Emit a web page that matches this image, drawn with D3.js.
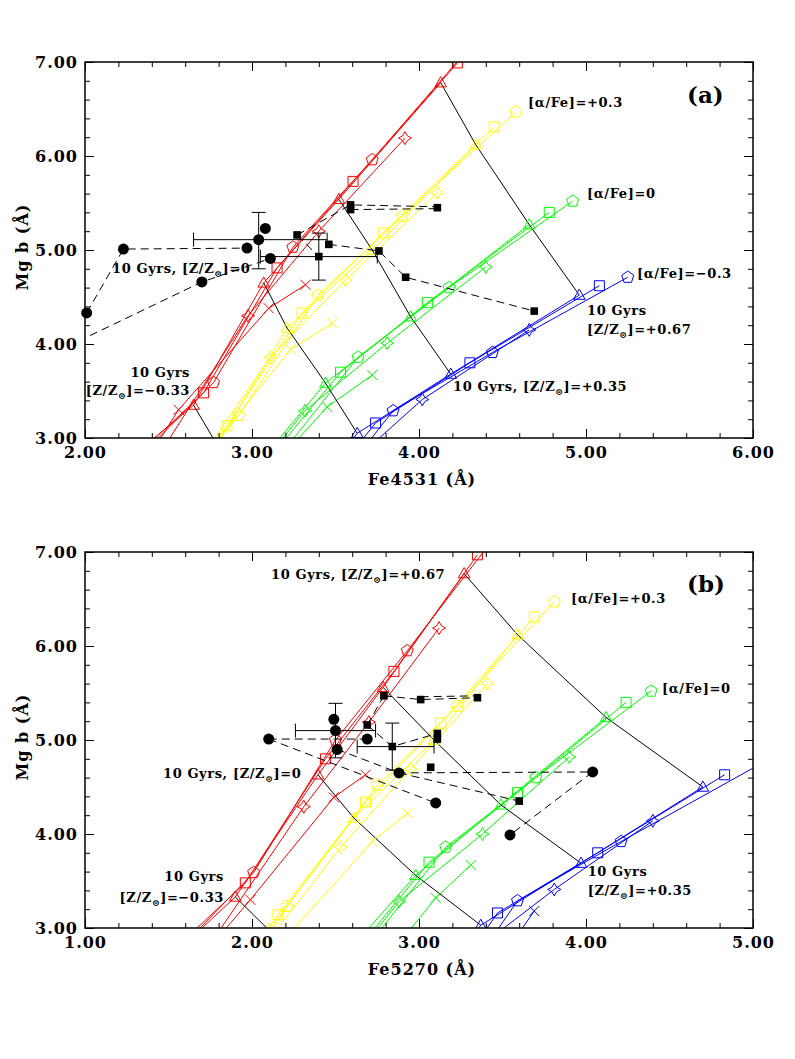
<!DOCTYPE html>
<html lang="en">
<head>
<meta charset="utf-8">
<title>Mg b vs Fe indices</title>
<script src="https://cdn.jsdelivr.net/npm/d3@7"></script>
<style>
  body { margin: 0; background: #fff; }
  text { font-family: "DejaVu Serif", serif; font-weight: bold; fill: #000; }
</style>
</head>
<body>
<script>
// Model grids. Each list runs over [Z/Zsun] = (below plot), -0.33, 0, +0.35, +0.67
// markers: triangle = 10 Gyr; the first entry only extends the track below the frame
var markerTypes = ["cross", "star", "square", "pentagon", "triangle"];

// ---- panel (a): Fe4531 ----
var redA = {
  triangle: [[2.28, 2.80], [2.65, 3.35], [3.07, 4.65], [3.52, 5.54], [4.13, 6.78]],
  square:   [[2.30, 2.80], [2.71, 3.48], [3.15, 4.81], [3.605, 5.73], [4.23, 6.99]],
  pentagon: [[2.30, 2.75], [2.77, 3.59], [3.245, 5.03], [3.72, 5.96], [4.30, 7.15]],
  star:     [[2.40, 2.70], null, [2.976, 4.30], [3.40, 5.20], [3.916, 6.19]],
  cross:    [[2.40, 2.85], [2.56, 3.30], [3.10, 4.38], [3.32, 4.63], null]
};
var yellowA = {
  triangle: [[2.60, 2.55], [2.79, 2.93], [3.21, 4.17], [3.72, 5.00], [4.34, 6.12]],
  square:   [[2.62, 2.60], [2.85, 3.13], [3.30, 4.33], [3.785, 5.18], [4.45, 6.31]],
  pentagon: [[2.60, 2.55], [2.92, 3.24], [3.395, 4.52], [3.90, 5.36], [4.58, 6.47]],
  star:     [[2.62, 2.60], null, [3.11, 3.86], [3.56, 4.68], [4.11, 5.61]],
  cross:    [[2.62, 2.60], null, [3.23, 3.94], [3.48, 4.22], null]
};
var greenA = {
  triangle: [[2.98, 2.60], null, [3.44, 3.585], [3.95, 4.29], [4.66, 5.27]],
  square:   [[3.02, 2.60], null, [3.53, 3.70], [4.05, 4.44], [4.78, 5.40]],
  pentagon: [[3.05, 2.55], null, [3.635, 3.86], [4.18, 4.60], [4.92, 5.52]],
  star:     [[2.98, 2.55], null, [3.317, 3.29], [3.81, 4.01], [4.40, 4.82]],
  cross:    [[3.05, 2.55], null, [3.45, 3.33], [3.72, 3.67], null]
};
var blueA = {
  triangle: [[3.52, 2.80], null, [3.63, 3.05], [4.19, 3.68], [4.96, 4.52]],
  square:   [[3.60, 2.85], null, [3.74, 3.16], [4.305, 3.80], [5.08, 4.62]],
  pentagon: [[3.65, 2.85], null, [3.845, 3.29], [4.44, 3.91], [5.25, 4.71]],
  star:     [[3.55, 2.75], null, [3.70, 2.90], [4.02, 3.41], [4.66, 4.15]],
  cross:    []
};
var circlesA = [[2.01, 4.33], [2.23, 5.01], [2.70, 4.66], [2.97, 5.02], [3.04, 5.11], [3.08, 5.23], [3.11, 4.91]];
var squaresA = [[3.27, 5.16], [3.46, 5.06], [3.40, 4.93], [3.59, 5.48], [3.59, 5.43], [4.11, 5.45],
                [3.76, 4.99], [3.92, 4.71], [4.69, 4.35]];
var dashedA = [
  [[2.01, 4.33], [2.23, 5.01], [2.97, 5.02]],
  [[1.96, 4.03], [2.70, 4.66], [3.11, 4.91]],
  [[3.27, 5.16], [3.59, 5.48], [4.11, 5.46]],
  [[3.59, 5.43], [4.11, 5.44]],
  [[3.27, 5.16], [3.40, 4.93]],
  [[3.46, 5.06], [3.76, 4.99], [3.92, 4.71], [4.69, 4.35]]
];
// x, y, xlow, xhigh, ylow, yhigh
var errorBarsA = [[3.04, 5.11, 2.65, 3.45, 4.80, 5.40], [3.40, 4.93, 3.05, 3.75, 4.68, 5.18]];

// ---- panel (b): Fe5270 ----
var redB = {
  triangle: [[1.55, 2.75], [1.90, 3.33], [2.395, 4.63], [2.785, 5.56], [3.27, 6.77]],
  square:   [[1.55, 2.80], [1.96, 3.48], [2.44, 4.80], [2.85, 5.73], [3.35, 6.97]],
  pentagon: [[1.58, 2.80], [2.01, 3.59], [2.50, 5.00], [2.93, 5.95], [3.45, 7.15]],
  star:     [[1.70, 2.70], null, [2.31, 4.29], [2.70, 5.19], [3.12, 6.19]],
  cross:    [[1.75, 2.80], [1.99, 3.30], [2.49, 4.39], [2.68, 4.63], null]
};
var yellowB = {
  triangle: [[1.95, 2.65], [2.10, 2.98], [2.61, 4.17], [3.09, 5.00], [3.59, 6.12]],
  square:   [[1.98, 2.70], [2.155, 3.14], [2.68, 4.34], [3.13, 5.18], [3.69, 6.31]],
  pentagon: [[2.02, 2.70], [2.21, 3.23], [2.75, 4.52], [3.23, 5.36], [3.81, 6.47]],
  star:     [[1.98, 2.60], null, [2.53, 3.86], [2.95, 4.69], [3.41, 5.60]],
  cross:    [[2.05, 2.60], null, [2.72, 3.92], [2.93, 4.22], null]
};
var greenB = {
  triangle: [[2.50, 2.60], null, [2.98, 3.56], [3.49, 4.31], [4.12, 5.24]],
  square:   [[2.55, 2.60], null, [3.06, 3.70], [3.59, 4.44], [4.24, 5.40]],
  pentagon: [[2.60, 2.60], null, [3.16, 3.86], [3.70, 4.60], [4.39, 5.52]],
  star:     [[2.55, 2.55], null, [2.88, 3.28], [3.38, 4.00], [3.90, 4.82]],
  cross:    [[2.75, 2.55], null, [3.10, 3.32], [3.31, 3.67], null]
};
var blueB = {
  triangle: [[3.25, 2.75], null, [3.37, 3.03], [3.97, 3.69], [4.70, 4.50]],
  square:   [[3.33, 2.80], null, [3.47, 3.16], [4.07, 3.80], [4.83, 4.63]],
  pentagon: [[3.40, 2.80], null, [3.59, 3.29], [4.21, 3.92], [5.10, 4.80]],
  star:     [[3.35, 2.70], null, [3.45, 2.92], [3.81, 3.41], [4.40, 4.14]],
  cross:    [[3.58, 2.90], null, [3.69, 3.18], null, null]
};
var circlesB = [[2.10, 5.01], [2.49, 5.22], [2.50, 5.10], [2.51, 4.90], [2.69, 5.01], [2.88, 4.65],
                [3.10, 4.33], [3.545, 3.99], [4.04, 4.66]];
var squaresB = [[2.69, 5.16], [2.79, 5.47], [3.01, 5.43], [3.35, 5.45], [2.84, 4.93], [3.11, 5.07],
                [3.11, 5.01], [3.07, 4.71], [3.60, 4.35]];
var dashedB = [
  [[2.10, 5.01], [2.69, 5.01]],
  [[2.10, 5.01], [3.10, 4.33]],
  [[2.51, 4.90], [2.88, 4.65], [4.04, 4.66], [3.545, 3.99]],
  [[2.88, 4.65], [3.60, 4.35]],
  [[2.79, 5.47], [3.01, 5.43], [3.35, 5.45]],
  [[3.01, 5.46], [3.35, 5.47]],
  [[2.69, 5.16], [2.79, 5.47]],
  [[2.69, 5.16], [2.84, 4.93], [3.11, 5.07]]
];
var errorBarsB = [[2.50, 5.10, 2.26, 2.74, 4.81, 5.39], [2.84, 4.93, 2.63, 3.09, 4.68, 5.18]];

var svg = d3.select("body").append("svg").attr("width", 795).attr("height", 1059);

// open marker shapes, pixel units around the point
var pent = d3.range(5).map(function(i) {
  var a = -Math.PI / 2 + i * 2 * Math.PI / 5;
  return [6.3 * Math.cos(a), 6.3 * Math.sin(a)];
});
var symbols = {
  triangle: "M0,-6L5.8,4.2L-5.8,4.2Z",
  square: "M-5,-5H5V5H-5Z",
  pentagon: "M" + pent.join("L") + "Z",
  star: "M0,-6.5Q1.4,-1.4 6.5,0Q1.4,1.4 0,6.5Q-1.4,1.4 -6.5,0Q-1.4,-1.4 0,-6.5Z",
  cross: "M-5,-5L5,5M-5,5L5,-5"
};

function zText(sel, before, value) {
  sel.append("tspan").text(before + "[Z/Z");
  sel.append("tspan").text("\u2299").attr("font-size", "0.7em").attr("dy", 4);
  sel.append("tspan").text("]=" + value).attr("dy", -4);
}

function drawPanel(p) {
  var top = p.top, bottom = p.top + 376;
  var x = d3.scaleLinear().domain(p.xDomain).range([85, 753]);
  var y = d3.scaleLinear().domain([3, 7]).range([bottom, top]);
  var line = d3.line().x(function(d) { return x(d[0]); }).y(function(d) { return y(d[1]); });
  var g = svg.append("g");

  g.append("clipPath").attr("id", "clip-" + p.name).append("rect")
    .attr("x", 85).attr("y", top).attr("width", 668).attr("height", 376);
  var plot = g.append("g").attr("clip-path", "url(#clip-" + p.name + ")");

  var groups = [[p.red, "#ff0000"], [p.yellow, "#ffff00"], [p.green, "#00ff00"], [p.blue, "#0000ff"]];

  // model tracks
  groups.forEach(function(gr) {
    markerTypes.forEach(function(t) {
      var pts = (gr[0][t] || []).filter(function(d) { return d; });
      if (pts.length > 1)
        plot.append("path").attr("d", line(pts)).attr("fill", "none")
          .attr("stroke", gr[1]).attr("stroke-width", 1);
    });
  });

  // 10 Gyr lines joining the triangles of equal metallicity
  for (var i = 1; i < 5; i++) {
    var iso = groups.map(function(gr) { return gr[0].triangle[i]; }).filter(function(d) { return d; });
    if (iso.length > 1)
      plot.append("path").attr("d", line(iso)).attr("fill", "none")
        .attr("stroke", "#000").attr("stroke-width", 1);
  }

  // model markers
  groups.forEach(function(gr) {
    markerTypes.forEach(function(t) {
      var pts = (gr[0][t] || []).filter(function(d, i) { return d && i > 0; });
      plot.selectAll(null).data(pts).join("path")
        .attr("transform", function(d) { return "translate(" + x(d[0]) + "," + y(d[1]) + ")"; })
        .attr("d", symbols[t]).attr("fill", "none")
        .attr("stroke", gr[1]).attr("stroke-width", 1);
    });
  });

  // observed points
  plot.selectAll(null).data(p.dashed).join("path")
    .attr("d", line).attr("fill", "none").attr("stroke", "#000")
    .attr("stroke-width", 1).attr("stroke-dasharray", "8,5");

  var eb = g.append("g").attr("stroke", "#000").attr("stroke-width", 1);
  p.errors.forEach(function(e) {
    eb.append("line").attr("x1", x(e[2])).attr("x2", x(e[3])).attr("y1", y(e[1])).attr("y2", y(e[1]));
    eb.append("line").attr("x1", x(e[0])).attr("x2", x(e[0])).attr("y1", y(e[4])).attr("y2", y(e[5]));
    [e[2], e[3]].forEach(function(v) {
      eb.append("line").attr("x1", x(v)).attr("x2", x(v)).attr("y1", y(e[1]) - 7).attr("y2", y(e[1]) + 7);
    });
    [e[4], e[5]].forEach(function(v) {
      eb.append("line").attr("x1", x(e[0]) - 7).attr("x2", x(e[0]) + 7).attr("y1", y(v)).attr("y2", y(v));
    });
  });

  g.selectAll(null).data(p.circles).join("circle")
    .attr("cx", function(d) { return x(d[0]); }).attr("cy", function(d) { return y(d[1]); })
    .attr("r", 5.5).attr("fill", "#000");
  g.selectAll(null).data(p.squares).join("rect")
    .attr("x", function(d) { return x(d[0]) - 3.8; }).attr("y", function(d) { return y(d[1]) - 3.8; })
    .attr("width", 7.6).attr("height", 7.6).attr("fill", "#000");

  // axes with ticks on every side
  var fmt = d3.format(".2f");
  function style(sel) {
    sel.select(".domain").remove();
    sel.selectAll("line").attr("stroke", "#000");
    sel.selectAll("text").attr("font-family", "DejaVu Serif").attr("font-size", 16)
      .attr("font-weight", "bold").attr("letter-spacing", 1).attr("fill", "#000");
  }
  g.append("g").attr("transform", "translate(0," + bottom + ")")
    .call(d3.axisBottom(x).ticks(4).tickSize(-9).tickPadding(9).tickFormat(fmt)).call(style);
  g.append("g").attr("transform", "translate(0," + bottom + ")")
    .call(d3.axisBottom(x).ticks(20).tickSize(-5).tickFormat("")).call(style);
  g.append("g").attr("transform", "translate(0," + top + ")")
    .call(d3.axisTop(x).ticks(4).tickSize(-9).tickFormat("")).call(style);
  g.append("g").attr("transform", "translate(0," + top + ")")
    .call(d3.axisTop(x).ticks(20).tickSize(-5).tickFormat("")).call(style);
  g.append("g").attr("transform", "translate(85,0)")
    .call(d3.axisLeft(y).ticks(4).tickSize(-9).tickPadding(7).tickFormat(fmt)).call(style);
  g.append("g").attr("transform", "translate(85,0)")
    .call(d3.axisLeft(y).ticks(20).tickSize(-5).tickFormat("")).call(style);
  g.append("g").attr("transform", "translate(753,0)")
    .call(d3.axisRight(y).ticks(4).tickSize(-9).tickFormat("")).call(style);
  g.append("g").attr("transform", "translate(753,0)")
    .call(d3.axisRight(y).ticks(20).tickSize(-5).tickFormat("")).call(style);

  g.append("rect").attr("x", 85).attr("y", top).attr("width", 668).attr("height", 376)
    .attr("fill", "none").attr("stroke", "#000").attr("stroke-width", 1.5);

  // axis titles
  g.append("text").attr("x", 422).attr("y", bottom + 47).attr("text-anchor", "middle")
    .attr("font-size", 16).attr("letter-spacing", 1).text(p.xTitle);
  g.append("text").attr("transform", "translate(28," + (top + 185) + ") rotate(-90)")
    .attr("text-anchor", "middle").attr("font-size", 16).attr("letter-spacing", 1).text("Mg b (\u00c5)");

  g.append("text").attr("x", x(p.tag[1])).attr("y", y(p.tag[2]))
    .attr("font-size", 23).text(p.tag[0]);

  // annotations
  var ann = g.append("g").attr("font-size", 13).attr("letter-spacing", 0.6);
  p.notes.forEach(function(n) {
    var t = ann.append("text").attr("x", x(n.x)).attr("y", y(n.y))
      .attr("text-anchor", n.anchor || "start");
    if (n.z !== undefined) zText(t, n.pre || "", n.z);
    else t.text(n.text);
  });
}

drawPanel({
  name: "a", top: 62, xDomain: [2, 6], xTitle: "Fe4531 (\u00c5)", tag: ["(a)", 5.605, 6.56],
  red: redA, yellow: yellowA, green: greenA, blue: blueA,
  circles: circlesA, squares: squaresA, dashed: dashedA, errors: errorBarsA,
  notes: [
    {text: "[\u03b1/Fe]=+0.3", x: 4.653, y: 6.52},
    {text: "[\u03b1/Fe]=0", x: 5.006, y: 5.553},
    {text: "[\u03b1/Fe]=\u22120.3", x: 5.305, y: 4.70},
    {text: "10 Gyrs", x: 5.006, y: 4.309},
    {z: "+0.67", x: 5.006, y: 4.106},
    {pre: "10 Gyrs, ", z: "+0.35", x: 4.204, y: 3.50},
    {pre: "10 Gyrs, ", z: "0", x: 2.162, y: 4.755},
    {text: "10 Gyrs", x: 2.629, y: 3.649, anchor: "end"},
    {z: "\u22120.33", x: 2.629, y: 3.457, anchor: "end"}
  ]
});

drawPanel({
  name: "b", top: 552, xDomain: [1, 5], xTitle: "Fe5270 (\u00c5)", tag: ["(b)", 4.605, 6.57],
  red: redB, yellow: yellowB, green: greenB, blue: blueB,
  circles: circlesB, squares: squaresB, dashed: dashedB, errors: errorBarsB,
  notes: [
    {pre: "10 Gyrs, ", z: "+0.67", x: 2.114, y: 6.713},
    {text: "[\u03b1/Fe]=+0.3", x: 3.91, y: 6.457},
    {text: "[\u03b1/Fe]=0", x: 4.455, y: 5.50},
    {text: "10 Gyrs", x: 4.01, y: 3.553},
    {z: "+0.35", x: 4.01, y: 3.35},
    {pre: "10 Gyrs, ", z: "0", x: 1.467, y: 4.596},
    {text: "10 Gyrs", x: 1.832, y: 3.50, anchor: "end"},
    {z: "\u22120.33", x: 1.832, y: 3.277, anchor: "end"}
  ]
});
</script>
</body>
</html>
